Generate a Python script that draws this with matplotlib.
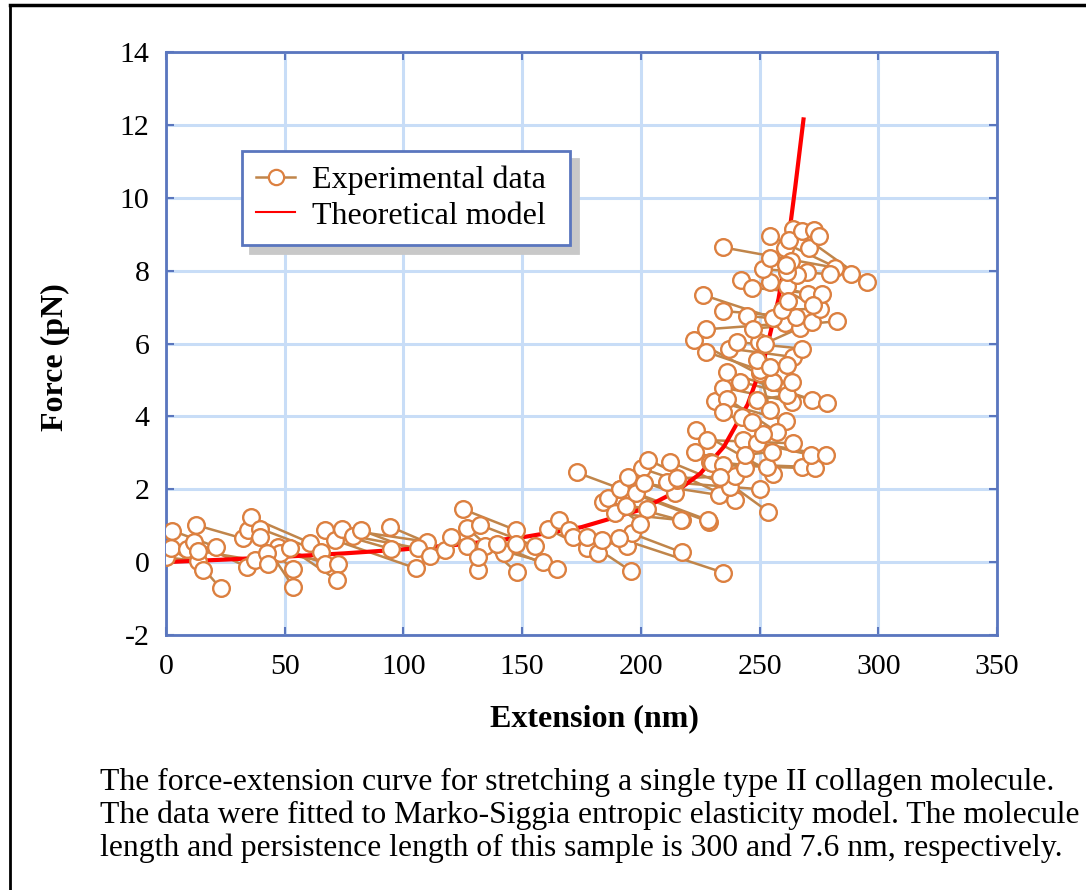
import numpy as np
import matplotlib
matplotlib.use("Agg")
import matplotlib.pyplot as plt
from matplotlib.lines import Line2D

plt.rcParams['font.family'] = ['Liberation Serif', 'DejaVu Serif']

# Experimental data: consecutive pairs (start, end) joined by a segment
exp_x = [
    0.0, 13.6, 2.7, 21.1, 2.1, 15.7, 8.7, 23.0, 11.8, 34.0, 12.5, 32.3, 13.6, 37.5,
    34.7, 53.6, 35.8, 60.7, 39.6, 65.3, 39.6, 53.6, 47.3, 67.0, 48.0, 72.3, 52.2, 71.9,
    42.4, 43.1, 67.0, 94.8, 71.2, 105.3, 74.3, 109.8, 78.9, 106.3, 82.1, 111.2, 94.5, 117.5,
    120.0, 142.5, 125.2, 147.3, 126.7, 147.7, 126.7, 131.6, 132.3, 155.4, 134.4, 158.7,
    139.3, 164.8, 147.3, 131.6,
    161.0, 177.2, 165.7, 182.1, 169.9, 195.7, 171.6, 194.2, 173.0, 191.2, 177.2, 183.5,
    196.1, 217.2, 191.0, 234.8, 183.9, 202.5, 186.3, 199.7, 189.1, 217.2, 191.2, 228.9,
    193.8, 216.8, 194.7, 214.4, 198.0, 228.4, 200.4, 215.1, 201.3, 233.1, 203.2, 239.6,
    210.9, 250.2, 212.3, 237.6, 215.1, 239.6, 222.8, 243.9, 223.3, 255.8, 227.8, 264.0,
    229.2, 253.0, 229.9, 267.8, 234.8, 273.4, 233.4, 253.7, 243.2, 271.7, 248.8, 278.0,
    243.9, 255.4, 231.3, 261.2, 234.8, 263.6, 236.2, 257.2, 234.8, 251.6, 242.5, 246.7,
    236.2, 272.0, 241.8, 278.3, 248.8, 261.5, 250.2, 254.4, 255.8, 263.6,
    222.4, 255.8, 227.5, 260.7, 227.5, 250.2, 237.3, 264.2, 240.6, 267.8, 248.8, 261.5,
    249.8, 254.4, 252.3, 267.0, 234.8, 265.4, 244.9, 271.9, 226.3, 255.8, 247.4, 282.8,
    259.4, 275.6, 242.1, 270.6, 246.7, 276.2, 254.4, 272.6, 261.5, 262.1, 234.5, 281.8,
    251.6, 279.7, 254.4, 269.9, 254.4, 288.4, 264.2, 295.4, 260.7, 265.7, 262.6, 261.5,
    263.2, 261.2, 267.8, 271.0, 272.9, 275.2,
]
exp_y = [
    0.13, 0.03, 0.86, 0.42, 0.38, -0.22, 0.35, -0.72, 0.56, -0.13, 1.02, 0.65, 0.31, 0.05,
    0.88, -0.20, 1.23, 0.53, 0.92, 0.28, 0.69, -0.68, 0.42, -0.04, 0.24, -0.04, 0.38, -0.49,
    0.24, -0.04, 0.88, 0.36, 0.60, -0.17, 0.90, 0.56, 0.71, 0.38, 0.88, 0.16, 0.97, 0.33,
    0.69, 0.24, 1.45, 0.88, 0.95, -0.28, 0.44, -0.22, 1.02, 0.44, 0.44, 0.01,
    0.49, -0.20, 0.51, 0.15,
    0.90, 0.38, 1.15, 0.24, 0.88, -0.24, 0.69, 0.44, 2.46, 2.02, 0.69, 0.60,
    0.79, 0.27, 0.65, -0.29, 1.65, 1.47, 1.75, 1.06, 1.34, 1.15, 2.02, 1.10,
    1.55, 1.15, 2.34, 1.90, 1.89, 1.15, 2.57, 2.25, 2.16, 1.84, 2.80, 1.70,
    2.20, 2.00, 2.75, 2.07, 2.30, 2.36, 3.03, 2.57, 3.62, 2.43, 3.35, 3.26,
    2.75, 2.62, 2.71, 2.62, 2.66, 2.57, 2.34, 1.38, 3.35, 2.94, 3.27, 2.94,
    2.94, 3.03, 4.43, 3.88, 4.79, 4.40, 4.49, 3.58, 4.12, 3.53, 3.99, 3.85,
    5.22, 4.46, 4.95, 4.36, 4.45, 4.58, 5.18, 4.17, 4.95, 4.95,
    6.09, 4.95, 6.39, 6.55, 5.77, 5.27, 5.86, 5.63, 6.04, 5.86, 5.54, 5.41,
    6.04, 5.36, 6.00, 6.43, 6.89, 6.73, 6.76, 6.58, 7.33, 6.70, 6.41, 6.61,
    6.92, 6.96, 7.74, 7.37, 7.53, 7.35, 7.69, 7.05, 7.58, 7.16, 8.64, 8.08,
    8.04, 7.90, 8.36, 7.95, 8.95, 7.90, 9.14, 7.69, 8.61, 7.88, 8.84, 7.95,
    8.26, 8.15, 9.08, 8.61, 9.11, 8.95,
]

# Theoretical model curve
model_x = [0, 25, 50, 75, 100, 125, 150, 175, 200, 215, 225, 235, 245, 252, 258, 262, 265, 268.5]
model_y = [0.0, 0.07, 0.15, 0.24, 0.35, 0.49, 0.68, 0.96, 1.44, 1.94, 2.43, 3.17, 4.33,
           5.60, 7.23, 8.77, 10.28, 12.15]

x_ticks = [0, 50, 100, 150, 200, 250, 300, 350]
y_ticks = [-2, 0, 2, 4, 6, 8, 10, 12, 14]

caption_lines = [
    "The force-extension curve for stretching a single type II collagen molecule.",
    "The data were fitted to Marko-Siggia entropic elasticity model. The molecule",
    "length and persistence length of this sample is 300 and 7.6 nm, respectively.",
]

spine_c = '#5a76be'
grid_c = '#c8ddf7'
line_c = '#c0854a'
mark_c = '#dc8040'

fig = plt.figure(figsize=(10.86, 8.9), dpi=100)
ax = fig.add_axes([166/1086, 1-635/890, (997-166)/1086, (635-52)/890])

ex = np.array(exp_x).reshape(-1, 2).T
ey = np.array(exp_y).reshape(-1, 2).T
ax.plot(ex, ey, color=line_c, lw=1.8, zorder=3, solid_capstyle='butt')
ax.plot(model_x, model_y, color='#ff0000', lw=3.0, zorder=4)
ax.plot(exp_x, exp_y, ls='none', marker='o', ms=12, mfc='white', mec=mark_c, mew=1.7, zorder=5)

ax.set_xlim(0, 350)
ax.set_ylim(-2, 14)
ax.set_xticks(x_ticks)
ax.set_yticks(y_ticks)
ax.set_xticklabels([str(v) for v in x_ticks])
ax.set_yticklabels([str(v) for v in y_ticks])
ax.grid(True, color=grid_c, lw=2.2)
ax.set_axisbelow(True)
for s in ax.spines.values():
    s.set_color(spine_c)
    s.set_linewidth(2.0)
ax.tick_params(axis='both', direction='in', length=6, width=1.5, color=spine_c,
               labelsize=21.5, top=True, right=True)
ax.tick_params(axis='x', pad=14)
ax.tick_params(axis='y', pad=12)
ax.set_xlabel('Extension (nm)', fontsize=23, fontweight='bold')
ax.set_ylabel('Force (pN)', fontsize=23, fontweight='bold')
ax.xaxis.set_label_coords((594.5-166)/831, (635-704)/583)
ax.yaxis.set_label_coords((70-166)/831, (635-357)/583)

h1 = Line2D([], [], color=line_c, lw=1.8, marker='o', ms=11, mfc='white', mec=mark_c, mew=1.6)
h2 = Line2D([], [], color='#ff0000', lw=1.5)
leg = ax.legend([h1, h2], ['Experimental data', 'Theoretical model'], loc='upper left',
                bbox_to_anchor=((242-166)/831, (635-244)/583, (570-242)/831, (244-151)/583),
                mode='expand', borderaxespad=0,
                fontsize=23, frameon=True, fancybox=False,
                shadow={'ox': 6, 'oy': -6, 'facecolor': '#c8c8c8', 'edgecolor': '#c8c8c8', 'alpha': 1},
                handlelength=1.2, handletextpad=0.55, borderpad=0.45, labelspacing=0.2)
leg.get_frame().set_edgecolor(spine_c)
leg.get_frame().set_linewidth(2.0)

# outer frame
fig.add_artist(Line2D([10/1086, 10/1086], [0, 1-5/890], color='black', lw=2, transform=fig.transFigure))
fig.add_artist(Line2D([10/1086, 1], [1-5/890, 1-5/890], color='black', lw=2.5, transform=fig.transFigure))

for i, t in enumerate(caption_lines):
    fig.text(100/1086, 1-(790+33*i)/890, t, fontsize=22.8, ha='left', va='baseline')

fig.savefig('out.png', dpi=100)
